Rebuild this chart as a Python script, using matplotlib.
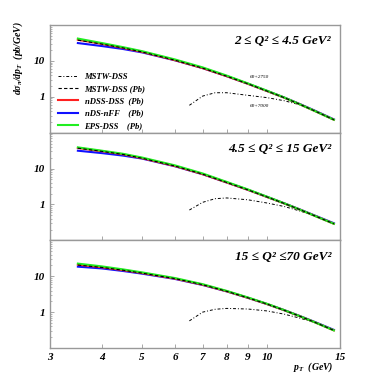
import matplotlib.pyplot as plt
from matplotlib.ticker import FixedLocator, NullFormatter, LogLocator

plt.rcParams['font.family'] = ['Liberation Serif', 'DejaVu Serif']
plt.rcParams['mathtext.fontset'] = 'custom'
plt.rcParams['mathtext.it'] = 'Liberation Serif:italic:bold'
plt.rcParams['mathtext.rm'] = 'Liberation Serif:italic:bold'
plt.rcParams['mathtext.bf'] = 'Liberation Serif:italic:bold'

# transverse momentum grid (GeV)
pt = [3.5, 4, 4.5, 5, 6, 7, 8, 9, 10, 11, 12, 13, 14.5]
pt_mstw = [6.5, 7, 7.5, 8, 9, 10, 11, 12, 13, 14.5]

# panel 1: 2 <= Q^2 <= 4.5
p1_ndss = [39, 29.9, 23.1, 17.9, 10.5, 6.3, 3.75, 2.3, 1.45, 0.95, 0.62, 0.41, 0.23]
p1_nds = [31.5, 26.0, 21.5, 17.3, 10.4, 6.3, 3.76, 2.31, 1.46, 0.96, 0.63, 0.42, 0.235]
p1_eps = [42, 31.5, 24.2, 18.7, 11.0, 6.6, 3.9, 2.36, 1.48, 0.96, 0.62, 0.41, 0.23]
p1_mstw_pb = [38, 29.5, 23.0, 17.8, 10.5, 6.3, 3.75, 2.3, 1.45, 0.95, 0.62, 0.41, 0.23]
p1_mstw = [0.58, 1.05, 1.3, 1.3, 1.1, 0.95, 0.78, 0.6, 0.42, 0.23]

# panel 2: 4.5 <= Q^2 <= 15
p2_ndss = [37.5, 30.5, 25.0, 19.5, 11.8, 7.0, 4.1, 2.55, 1.62, 1.07, 0.72, 0.49, 0.29]
p2_nds = [31.5, 27.0, 23.0, 19.0, 11.6, 6.95, 4.1, 2.56, 1.63, 1.08, 0.73, 0.5, 0.3]
p2_eps = [39, 31.5, 25.8, 20.3, 12.3, 7.3, 4.25, 2.62, 1.65, 1.08, 0.72, 0.49, 0.29]
p2_mstw_pb = [37, 30.2, 24.8, 19.4, 11.8, 7.0, 4.1, 2.55, 1.62, 1.07, 0.72, 0.49, 0.29]
p2_mstw = [0.7, 1.15, 1.45, 1.52, 1.35, 1.1, 0.88, 0.66, 0.49, 0.29]

# panel 3: 15 <= Q^2 <= 70
p3_ndss = [21, 17.8, 14.8, 12.3, 8.6, 5.8, 3.8, 2.5, 1.68, 1.13, 0.77, 0.53, 0.31]
p3_nds = [18.5, 16.5, 14.0, 11.8, 8.4, 5.7, 3.78, 2.5, 1.68, 1.14, 0.78, 0.54, 0.32]
p3_eps = [22.5, 18.8, 15.5, 12.8, 8.9, 6.0, 3.9, 2.56, 1.71, 1.14, 0.77, 0.53, 0.31]
p3_mstw_pb = [20.5, 17.6, 14.7, 12.2, 8.6, 5.8, 3.8, 2.5, 1.68, 1.13, 0.77, 0.53, 0.31]
p3_mstw = [0.57, 1.0, 1.2, 1.27, 1.22, 1.08, 0.88, 0.68, 0.52, 0.31]

q2_labels = [u"2 \u2264 Q\u00b2 \u2264 4.5 GeV\u00b2",
             u"4.5 \u2264 Q\u00b2 \u2264 15 GeV\u00b2",
             u"15 \u2264 Q\u00b2 \u226470 GeV\u00b2"]
xticks = [3, 4, 5, 6, 7, 8, 9, 10, 15]

panels = [
    (p1_ndss, p1_nds, p1_eps, p1_mstw_pb, p1_mstw),
    (p2_ndss, p2_nds, p2_eps, p2_mstw_pb, p2_mstw),
    (p3_ndss, p3_nds, p3_eps, p3_mstw_pb, p3_mstw),
]

fig = plt.figure(figsize=(3.74, 3.74), dpi=100)
left, width = 0.134, 0.775
bottom, top = 0.0695, 0.933
h = (top - bottom) / 3
frame = '#999999'

for i, (ndss, nds, eps, mstw_pb, mstw) in enumerate(panels):
    ax = fig.add_axes([left, top - (i + 1) * h, width, h])
    ax.plot(pt_mstw, mstw, color='black', linestyle=(0, (3, 2, 1, 2)), lw=0.7,
            label='MSTW-DSS')
    ax.plot(pt, nds, color='#1010ff', lw=1.5, label='nDS-nFF    (Pb)')
    ax.plot(pt, ndss, color='#ff2020', lw=1.5, label='nDSS-DSS  (Pb)')
    ax.plot(pt, eps, color='#20ee20', lw=1.5, label='EPS-DSS    (Pb)')
    ax.plot(pt, mstw_pb, color='black', linestyle=(0, (3, 2)), lw=0.8,
            label='MSTW-DSS (Pb)')

    ax.set_xscale('log')
    ax.set_yscale('log')
    ax.set_xlim(3, 15)
    ax.set_ylim(0.1, 100)
    for s in ax.spines.values():
        s.set_color(frame)
        s.set_linewidth(1.0)
    ax.yaxis.set_major_locator(FixedLocator([1, 10]))
    ax.yaxis.set_major_formatter(plt.FixedFormatter(['1', '10']))
    ax.yaxis.set_minor_locator(LogLocator(base=10, subs=range(2, 10)))
    ax.yaxis.set_minor_formatter(NullFormatter())
    ax.xaxis.set_major_locator(FixedLocator(xticks))
    ax.xaxis.set_minor_locator(FixedLocator([]))
    ax.tick_params(direction='in', color=frame, labelsize=8, length=3, width=0.6)
    ax.tick_params(which='minor', direction='in', color=frame, length=1.5, width=0.5)
    for lab in ax.get_yticklabels():
        lab.set_fontweight('bold')
        lab.set_fontstyle('italic')
    if i < 2:
        ax.set_xticklabels([])
    else:
        ax.set_xticklabels([str(t) for t in xticks], fontsize=8,
                           fontweight='bold', fontstyle='italic')
    ax.text(0.97, 0.85, q2_labels[i], transform=ax.transAxes, ha='right',
            va='center', fontsize=9.5, fontweight='bold', fontstyle='italic')

    if i == 0:
        handles, labels = ax.get_legend_handles_labels()
        order = [0, 4, 2, 1, 3]
        ax.legend([handles[k] for k in order], [labels[k] for k in order],
                  loc='upper left', bbox_to_anchor=(0.0, 0.63), frameon=False,
                  handlelength=2.3, labelspacing=0.5,
                  prop={'weight': 'bold', 'style': 'italic', 'size': 6.2})
        ax.text(9.6, 3.6, '60+2750', fontsize=3.8, fontstyle='italic',
                ha='center', va='center')
        ax.text(9.6, 0.55, '60+7000', fontsize=3.8, fontstyle='italic',
                ha='center', va='center')
        ax.set_ylabel(r'$d\sigma_\pi/dp_T$  (pb/GeV)', fontsize=7,
                      fontweight='bold', fontstyle='italic')
        ax.yaxis.set_label_coords(-0.085, 0.69)

fig.text(0.892, 0.018, r'$p_T$  (GeV)', fontsize=7, fontweight='bold',
         fontstyle='italic', ha='right', va='center')

fig.savefig('out.png', dpi=100, facecolor='white')
